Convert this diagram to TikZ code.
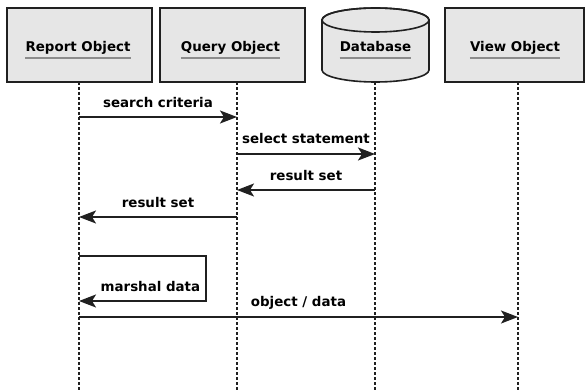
\documentclass[tikz,border=0pt]{standalone}
\usepackage{fontspec}
\setmainfont{DejaVu Sans}
\usetikzlibrary{arrows.meta, positioning}
\definecolor{boxgray}{HTML}{E6E6E6}
\definecolor{linegray}{HTML}{202020}
\definecolor{ulgray}{HTML}{8C8C8C}

\begin{document}
\begin{tikzpicture}[x=1pt, y=1pt, font=\fontsize{13.4}{16}\selectfont\bfseries,
  obj/.style={draw=linegray, fill=boxgray, line width=1.6pt, minimum height=74pt, inner sep=0pt},
  objname/.style={anchor=base, inner sep=0pt},
  uline/.style={draw=ulgray, line width=2pt},
  life/.style={draw=linegray, line width=1.3pt, dash pattern=on 3pt off 2pt},
  msg/.style={draw=linegray, line width=1.7pt, -{Stealth[length=17pt,width=13pt,inset=4pt]}},
  lbl/.style={inner sep=0pt, text height=10pt, text depth=2.5pt}]

\useasboundingbox (0,0) rectangle (585,-390);

\node[obj, minimum width=145pt] (RO) at (79.5,-45) {};
\node[obj, minimum width=145pt] (QO) at (232.5,-45) {};
\node[obj, minimum width=139pt] (VO) at (514.5,-45) {};
% database drum
\filldraw[draw=linegray, fill=boxgray, line width=1.6pt] (322,-20) -- (322,-70)
  arc[start angle=180, end angle=360, x radius=53.5, y radius=12] -- (429,-20)
  arc[start angle=0, end angle=180, x radius=53.5, y radius=12] -- cycle;
\draw[linegray, line width=1.6pt] (375.5,-20) ellipse[x radius=53.5, y radius=12];

\node[objname] (ROn) at (78,-52)    {Report Object};
\node[objname] (QOn) at (230.5,-52) {Query Object};
\node[objname] (DBn) at (375.5,-52) {Database};
\node[objname] (VOn) at (515,-52)   {View Object};

\foreach \n in {ROn,QOn,DBn,VOn}
  \draw[uline] ([yshift=-6pt]\n.base west) -- ([yshift=-6pt]\n.base east);

% lifelines
\coordinate (ROl) at (79,-82);
\coordinate (QOl) at (237,-82);
\coordinate (DBl) at (375,-82);
\coordinate (VOl) at (518,-82);
\foreach \c in {ROl,QOl,DBl,VOl}
  \draw[life] (\c) -- (\c |- 0,-390);

% messages
\draw[msg] (ROl |- 0,-117) -- node[lbl, midway, yshift=13pt] {search criteria} (QOl |- 0,-117);
\draw[msg] (QOl |- 0,-154) -- node[lbl, midway, yshift=14pt] {select statement} (DBl |- 0,-154);
\draw[msg] (DBl |- 0,-190) -- node[lbl, midway, yshift=13pt] {result set} (QOl |- 0,-190);
\draw[msg] (QOl |- 0,-217) -- node[lbl, midway, yshift=13pt] {result set} (ROl |- 0,-217);

\coordinate (MD) at (206,-301);
\draw[msg] (ROl |- 0,-256) -| (MD) -- node[lbl, pos=0, anchor=east, xshift=-5pt, yshift=13pt] {marshal data} (ROl |- MD);

\draw[msg] (ROl |- 0,-317) -- node[lbl, midway, yshift=14pt] {object / data} (VOl |- 0,-317);

\end{tikzpicture}
\end{document}
